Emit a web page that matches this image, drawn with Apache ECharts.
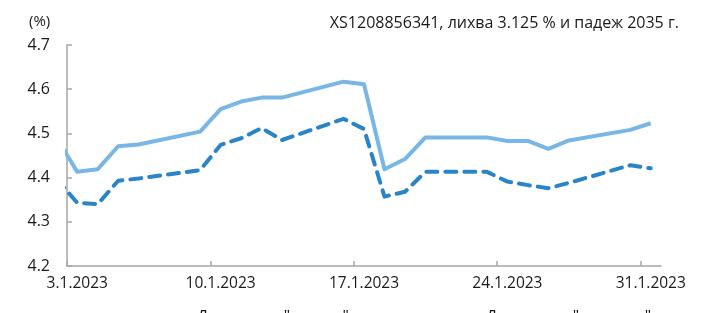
<!DOCTYPE html>
<html>
<head>
<meta charset="utf-8">
<script src="https://cdn.jsdelivr.net/npm/echarts@6/dist/echarts.min.js"></script>
<style>
html,body{margin:0;padding:0;background:#fff;}
#chart{width:701px;height:313px;}
</style>
</head>
<body>
<div id="chart"></div>
<script>
// ---- data ----
var startDate = '3.1.2023';
var dates = ['2.1.2023','3.1.2023','4.1.2023','5.1.2023','6.1.2023','9.1.2023','10.1.2023','11.1.2023','12.1.2023','13.1.2023','16.1.2023','17.1.2023','18.1.2023','19.1.2023','20.1.2023','23.1.2023','24.1.2023','25.1.2023','26.1.2023','27.1.2023','30.1.2023','31.1.2023'];
var buyYield  = [4.489,4.413,4.419,4.471,4.475,4.504,4.555,4.572,4.581,4.581,4.617,4.611,4.419,4.442,4.491,4.491,4.483,4.483,4.465,4.484,4.508,4.523];
var sellYield = [4.396,4.343,4.340,4.393,4.398,4.417,4.474,4.489,4.512,4.485,4.533,4.510,4.357,4.368,4.413,4.413,4.391,4.383,4.376,4.388,4.428,4.421];
var xTickLabels = ['3.1.2023','10.1.2023','17.1.2023','24.1.2023','31.1.2023'];
var seriesNames = ['Доходност "купува"','Доходност "продава"'];
var titleText = 'XS1208856341, лихва 3.125 % и падеж 2035 г.';
var unitText = '(%)';

function parseD(s){var p=s.split('.');return Date.UTC(+p[2],+p[1]-1,+p[0]);}
var DAY = 86400000;
function dayIndex(s){return Math.round((parseD(s)-parseD(startDate))/DAY);}
function pairs(vals){return dates.map(function(d,i){return [dayIndex(d)+0.5, vals[i]];});}
var tickDays = xTickLabels.map(dayIndex);
var labelPos = tickDays.map(function(d){return d+0.5;});

var font = '"Open Sans", sans-serif';
var axisColor = '#a6a6a6';
var textColor = '#1a1a1a';

var chart = echarts.init(document.getElementById('chart'), null, {renderer:'canvas'});
chart.setOption({
  animation:false,
  backgroundColor:'#fff',
  textStyle:{fontFamily:font},
  title:{
    text:titleText, right:17, top:10,
    textStyle:{fontFamily:font,fontSize:16,fontWeight:'normal',color:textColor}
  },
  graphic:[{type:'text', left:29, top:14, style:{text:unitText, font:'15px '+font, fill:textColor}}],
  legend:[
    {data:[seriesNames[0]], icon:'rect', left:157, top:304, itemWidth:30, itemHeight:4, textStyle:{fontFamily:font,fontSize:16,color:textColor}},
    {data:[seriesNames[1]], icon:'rect', left:446, top:304, itemWidth:30, itemHeight:4, textStyle:{fontFamily:font,fontSize:16,color:textColor}}
  ],
  grid:{left:67, right:40, top:45, bottom:47},
  xAxis:{
    type:'value', min:0, max:29,
    axisLine:{show:true, lineStyle:{color:axisColor,width:1.5}},
    axisTick:{show:true, inside:true, length:5, customValues:tickDays, lineStyle:{color:axisColor,width:1.5}},
    splitLine:{show:false},
    axisLabel:{
      customValues:labelPos, margin:10,
      fontFamily:font, fontSize:15.5, color:textColor,
      formatter:function(v){var i=labelPos.indexOf(v);return i>=0?xTickLabels[i]:'';}
    }
  },
  yAxis:{
    type:'value', min:4.2, max:4.7, interval:0.1,
    axisLine:{show:true, lineStyle:{color:axisColor,width:1.5}},
    axisTick:{show:true, inside:true, length:5, lineStyle:{color:axisColor,width:1.5}},
    splitLine:{show:false},
    axisLabel:{margin:17, fontFamily:font, fontSize:16, color:textColor, formatter:function(v){return v.toFixed(1);}}
  },
  series:[
    {name:seriesNames[0], type:'line', data:pairs(buyYield), symbol:'none', clip:true,
     lineStyle:{color:'#78b6e6', width:4, join:'round'}, itemStyle:{color:'#78b6e6'}},
    {name:seriesNames[1], type:'line', data:pairs(sellYield), symbol:'none', clip:true,
     lineStyle:{color:'#2a84c8', width:4, type:[11,8], cap:'round', join:'round'}, itemStyle:{color:'#2a84c8'}}
  ]
});
</script>
</body>
</html>
